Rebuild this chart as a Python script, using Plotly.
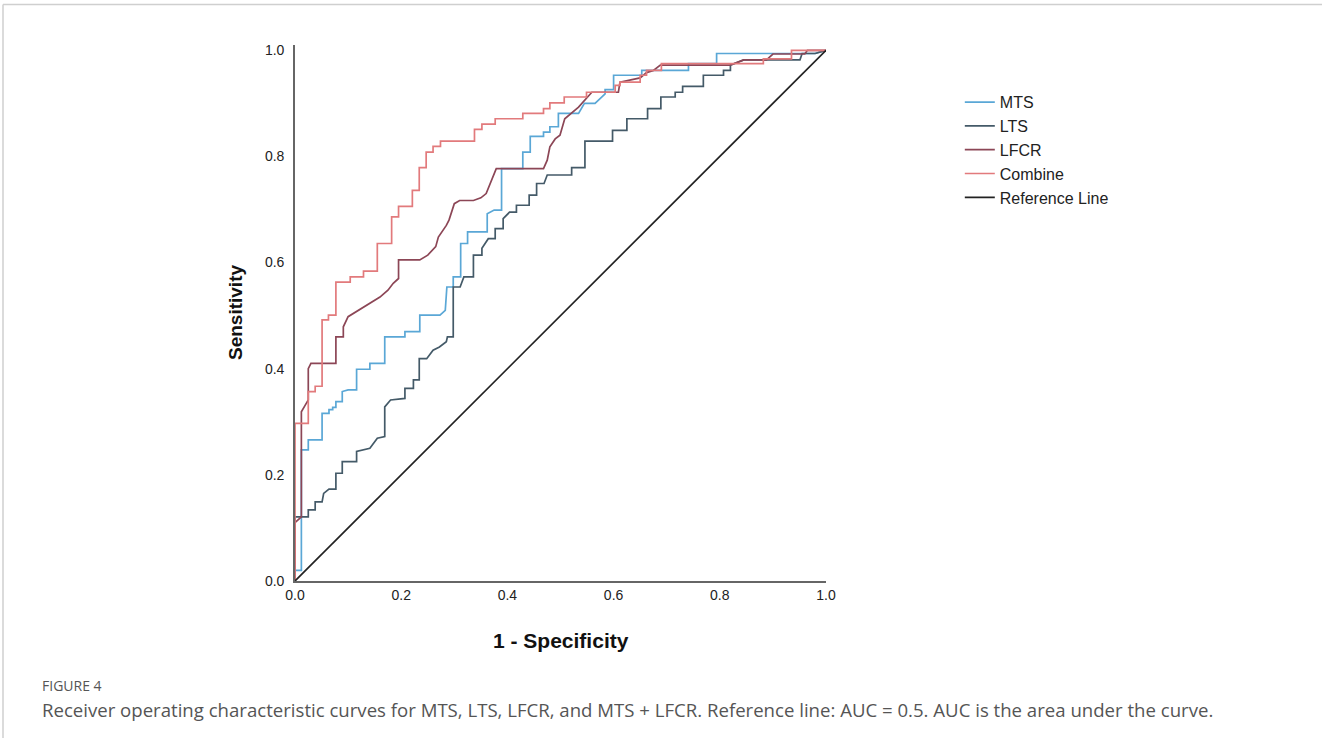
import plotly.graph_objects as go

# ROC curve vertices (1 - specificity, sensitivity)
mts_roc = [(0, 0), (0, 0.02), (0.012, 0.02), (0.012, 0.247), (0.025, 0.247), (0.025, 0.266),
           (0.051, 0.266), (0.051, 0.316), (0.064, 0.316), (0.064, 0.323), (0.071, 0.323),
           (0.071, 0.327), (0.077, 0.327), (0.077, 0.338), (0.089, 0.338), (0.089, 0.357),
           (0.1, 0.36), (0.116, 0.36), (0.116, 0.399), (0.141, 0.399), (0.141, 0.41),
           (0.169, 0.41), (0.169, 0.46), (0.207, 0.46), (0.207, 0.47), (0.235, 0.47),
           (0.235, 0.501), (0.273, 0.501), (0.283, 0.51), (0.286, 0.554), (0.298, 0.554),
           (0.298, 0.573), (0.312, 0.573), (0.312, 0.636), (0.325, 0.636), (0.325, 0.658),
           (0.362, 0.658), (0.362, 0.692), (0.375, 0.699), (0.389, 0.699), (0.389, 0.777),
           (0.429, 0.777), (0.429, 0.808), (0.443, 0.808), (0.443, 0.838), (0.468, 0.838),
           (0.468, 0.846), (0.48, 0.846), (0.48, 0.856), (0.496, 0.856), (0.496, 0.881),
           (0.534, 0.881), (0.545, 0.9), (0.565, 0.9), (0.584, 0.918), (0.584, 0.926),
           (0.6, 0.926), (0.6, 0.953), (0.653, 0.953), (0.653, 0.962), (0.741, 0.962),
           (0.741, 0.975), (0.794, 0.975), (0.794, 0.994), (0.979, 0.994), (1, 1)]

lts_roc = [(0, 0), (0, 0.121), (0.025, 0.121), (0.025, 0.134), (0.038, 0.134), (0.038, 0.149),
           (0.051, 0.149), (0.054, 0.165), (0.064, 0.173), (0.077, 0.173), (0.077, 0.203),
           (0.089, 0.203), (0.089, 0.225), (0.116, 0.225), (0.116, 0.244), (0.141, 0.25),
           (0.155, 0.269), (0.169, 0.272), (0.169, 0.328), (0.18, 0.341), (0.207, 0.344),
           (0.207, 0.363), (0.223, 0.363), (0.223, 0.379), (0.234, 0.379), (0.234, 0.419),
           (0.248, 0.419), (0.26, 0.435), (0.272, 0.441), (0.285, 0.451), (0.287, 0.46),
           (0.298, 0.46), (0.298, 0.554), (0.311, 0.554), (0.318, 0.573), (0.336, 0.573),
           (0.336, 0.614), (0.352, 0.614), (0.352, 0.627), (0.364, 0.645), (0.377, 0.645),
           (0.377, 0.664), (0.392, 0.664), (0.392, 0.683), (0.404, 0.695), (0.417, 0.695),
           (0.417, 0.708), (0.441, 0.708), (0.441, 0.727), (0.455, 0.727), (0.455, 0.749),
           (0.469, 0.749), (0.475, 0.765), (0.521, 0.765), (0.521, 0.779), (0.546, 0.779),
           (0.546, 0.829), (0.598, 0.829), (0.598, 0.849), (0.625, 0.849), (0.625, 0.871),
           (0.664, 0.871), (0.664, 0.89), (0.689, 0.89), (0.689, 0.912), (0.716, 0.912),
           (0.716, 0.921), (0.73, 0.921), (0.73, 0.932), (0.769, 0.932), (0.769, 0.953),
           (0.807, 0.953), (0.807, 0.962), (0.82, 0.962), (0.82, 0.972), (0.845, 0.982),
           (0.951, 0.982), (0.955, 0.994), (0.98, 0.994), (1, 1)]

lfcr_roc = [(0, 0), (0, 0.11), (0.012, 0.121), (0.012, 0.319), (0.019, 0.331), (0.025, 0.341),
            (0.025, 0.4), (0.03, 0.41), (0.077, 0.41), (0.077, 0.46), (0.091, 0.46),
            (0.091, 0.479), (0.1, 0.498), (0.11, 0.504), (0.125, 0.514), (0.15, 0.529),
            (0.16, 0.535), (0.175, 0.548), (0.185, 0.561), (0.195, 0.57), (0.195, 0.605),
            (0.235, 0.605), (0.25, 0.614), (0.265, 0.63), (0.27, 0.648), (0.285, 0.67),
            (0.29, 0.68), (0.3, 0.711), (0.31, 0.717), (0.336, 0.717), (0.35, 0.722),
            (0.36, 0.73), (0.37, 0.755), (0.379, 0.777), (0.468, 0.777), (0.475, 0.793),
            (0.48, 0.818), (0.49, 0.833), (0.499, 0.84), (0.508, 0.871), (0.534, 0.893),
            (0.559, 0.921), (0.609, 0.921), (0.612, 0.94), (0.65, 0.948), (0.662, 0.958),
            (0.675, 0.962), (0.688, 0.972), (0.819, 0.972), (0.845, 0.982), (0.888, 0.982),
            (0.9, 0.993), (0.96, 0.993), (0.965, 1.0), (1, 1)]

combine_roc = [(0, 0), (0, 0.297), (0.025, 0.297), (0.025, 0.357), (0.038, 0.357), (0.038, 0.367),
               (0.051, 0.367), (0.051, 0.492), (0.063, 0.492), (0.063, 0.501), (0.077, 0.501),
               (0.077, 0.563), (0.104, 0.563), (0.104, 0.573), (0.129, 0.573), (0.129, 0.584),
               (0.155, 0.584), (0.155, 0.636), (0.182, 0.636), (0.182, 0.686), (0.195, 0.686),
               (0.195, 0.706), (0.221, 0.706), (0.221, 0.736), (0.234, 0.736), (0.234, 0.779),
               (0.247, 0.779), (0.247, 0.808), (0.26, 0.808), (0.26, 0.819), (0.274, 0.819),
               (0.274, 0.829), (0.338, 0.829), (0.338, 0.851), (0.352, 0.851), (0.352, 0.861),
               (0.377, 0.861), (0.377, 0.871), (0.429, 0.871), (0.429, 0.881), (0.468, 0.881),
               (0.468, 0.89), (0.48, 0.89), (0.48, 0.901), (0.507, 0.901), (0.507, 0.912),
               (0.549, 0.912), (0.549, 0.921), (0.603, 0.921), (0.603, 0.934), (0.612, 0.934),
               (0.612, 0.94), (0.65, 0.94), (0.65, 0.953), (0.662, 0.953), (0.662, 0.962),
               (0.69, 0.962), (0.69, 0.975), (0.882, 0.975), (0.882, 0.984), (0.935, 0.984),
               (0.935, 1.0), (1, 1)]

reference_roc = [(0, 0), (1, 1)]

series_names = ["MTS", "LTS", "LFCR", "Combine", "Reference Line"]
series_data = [mts_roc, lts_roc, lfcr_roc, combine_roc, reference_roc]
series_colors = ["#5aa7d6", "#445a68", "#8c4656", "#e27a7c", "#222222"]

tick_vals = [0.0, 0.2, 0.4, 0.6, 0.8, 1.0]
tick_text = ["0.0", "0.2", "0.4", "0.6", "0.8", "1.0"]

fig = go.Figure()
for name, pts, col in zip(series_names, series_data, series_colors):
    fig.add_trace(go.Scatter(
        x=[p[0] for p in pts], y=[p[1] for p in pts], mode="lines", name=name,
        line=dict(color=col, width=1.7), hoverinfo="skip"))

W, H = 1322, 738
x0px, x1px, y0px, y1px = 295, 826, 581, 50
yr_top = 1.01
ppu = (y0px - y1px)
fig.update_layout(
    width=W, height=H,
    margin=dict(l=x0px, r=W - x1px, t=y1px - (yr_top - 1) * ppu, b=H - y0px, pad=0),
    paper_bgcolor="white", plot_bgcolor="white",
    font=dict(family="Liberation Sans, Arial, sans-serif", color="#222"),
    showlegend=True,
    legend=dict(x=1.252, y=0.925, xanchor="left", yanchor="top",
                font=dict(size=16, color="#222"), tracegroupgap=0,
                bgcolor="rgba(0,0,0,0)", itemwidth=30),
    xaxis=dict(range=[0, 1], tickvals=tick_vals, ticktext=tick_text, showgrid=False,
               zeroline=False, showline=True, linecolor="#666", linewidth=1.6,
               ticks="", tickfont=dict(size=14, color="#222"), fixedrange=True),
    yaxis=dict(range=[0, yr_top], tickvals=tick_vals, ticktext=tick_text, showgrid=False,
               zeroline=False, showline=True, linecolor="#666", linewidth=1.6,
               ticks="", tickfont=dict(size=14, color="#222"), ticklabelstandoff=6,
               fixedrange=True),
)

def px_x(px):
    return (px - x0px) / (x1px - x0px)

def px_y(py):
    return (y0px - py) / ppu

fig.add_annotation(text="<b>Sensitivity</b>", x=px_x(235), y=0.5, xref="paper", yref="paper",
                   xanchor="center", yanchor="middle",
                   textangle=-90, showarrow=False, font=dict(size=19, color="#111"))
fig.add_annotation(text="<b>1 - Specificity</b>", x=px_x(561), y=px_y(640), xref="paper", yref="paper",
                   xanchor="center", yanchor="middle",
                   showarrow=False, font=dict(size=21, color="#111"))
fig.add_annotation(text="FIGURE 4", x=px_x(40), y=px_y(684.5), xref="paper", yref="paper",
                   xanchor="left", yanchor="middle", showarrow=False,
                   font=dict(family="Open Sans, sans-serif", size=14, color="#555"))
fig.add_annotation(text="Receiver operating characteristic curves for MTS, LTS, LFCR, and MTS + LFCR. "
                        "Reference line: AUC = 0.5. AUC is the area under the curve.",
                   x=px_x(40), y=px_y(708), xref="paper", yref="paper", xanchor="left",
                   yanchor="middle", showarrow=False,
                   font=dict(family="Open Sans, sans-serif", size=18.6, color="#555"))

# page frame
fig.add_shape(type="line", xref="paper", yref="paper", x0=px_x(3), x1=px_x(1322),
              y0=px_y(10), y1=px_y(10), line=dict(color="#cfcfcf", width=1.5))
fig.add_shape(type="line", xref="paper", yref="paper", x0=px_x(3), x1=px_x(3),
              y0=px_y(10), y1=px_y(738), line=dict(color="#cfcfcf", width=1.5))

fig.write_html("out.html", config={"displayModeBar": False},
               post_script="document.body.style.margin='0';document.body.style.overflow='hidden';")
